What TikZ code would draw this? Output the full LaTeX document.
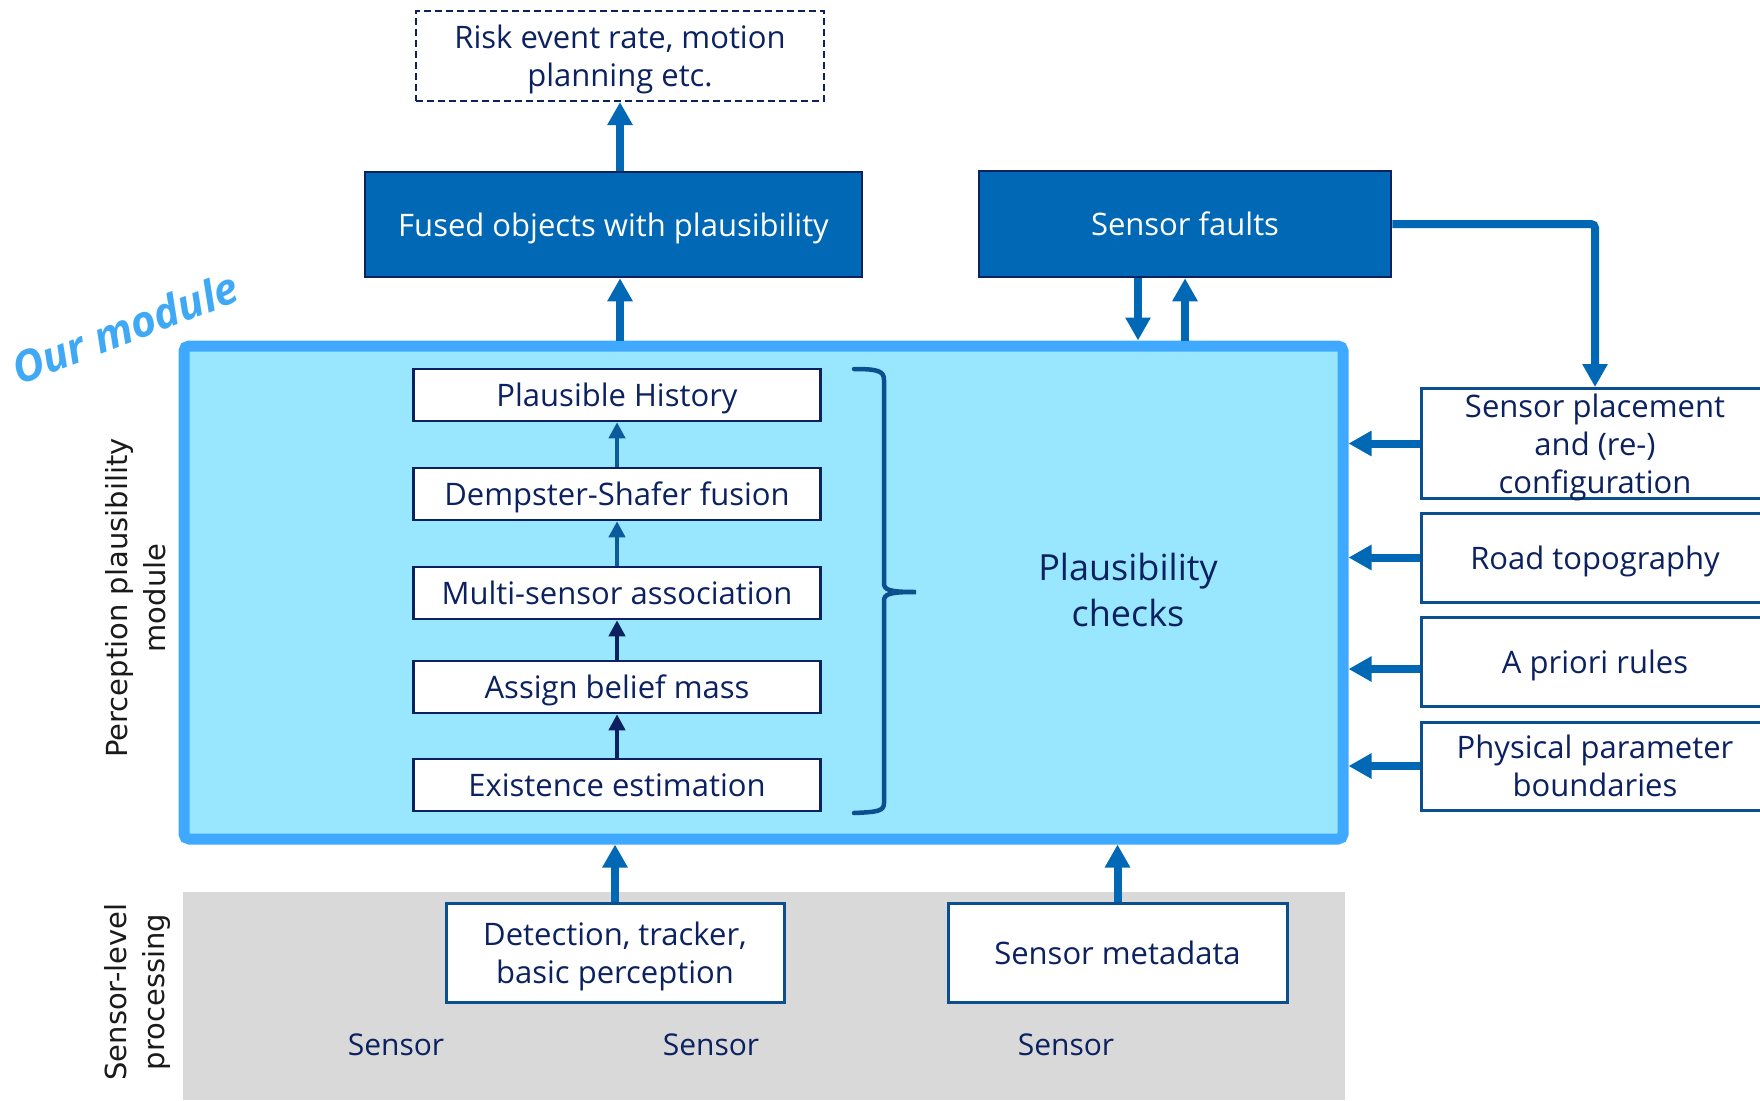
\documentclass[tikz,border=0pt]{standalone}
\usepackage{fontspec}
\setmainfont{Open Sans}
\newfontfamily\labelfont{DejaVu Sans}
\usetikzlibrary{arrows.meta}

\definecolor{txtnavy}{HTML}{0B2160}
\definecolor{iblue}{HTML}{0068B5}
\definecolor{modfill}{HTML}{99E6FF}
\definecolor{modedge}{HTML}{3FA9FF}
\definecolor{edgeblue}{HTML}{0B4F8F}
\definecolor{stepblue}{HTML}{0B5A9C}
\definecolor{procgray}{HTML}{D9D9D9}
\definecolor{ourblue}{HTML}{3FA9F5}
\definecolor{labelgray}{HTML}{1A1A1A}

\tikzset{
  boxtext/.style={font=\fontsize{31}{38}\selectfont, text=txtnavy, align=center,
    text depth=0pt},
  darkbox/.style={draw=txtnavy, fill=iblue, line width=2.5pt, text=white,
    font=\fontsize{31}{38}\selectfont, inner sep=0pt, text depth=0pt},
  stepbox/.style={draw=txtnavy, fill=white, line width=2.5pt, minimum width=407pt,
    minimum height=52pt, inner sep=0pt, boxtext},
  sidebox/.style={draw=edgeblue, fill=white, line width=3pt, minimum width=348pt,
    inner sep=0pt, boxtext},
  srcbox/.style={draw=edgeblue, fill=white, line width=3pt, minimum width=338pt,
    minimum height=99pt, inner sep=0pt, boxtext},
  feed/.style={draw=iblue, line width=8pt, -{Triangle[length=23pt,width=24pt]}},
  chain/.style={line width=4pt, -{Triangle[length=16pt,width=16pt]}},
  sidelabel/.style={rotate=90, text=labelgray, align=center,
    font=\labelfont\fontsize{29}{38}\selectfont},
  sensorlabel/.style={font=\fontsize{30}{36}\selectfont, text=txtnavy},
}

\begin{document}
\begin{tikzpicture}[x=1pt,y=-1pt]
\useasboundingbox (0,0) rectangle (1760,1100);
\clip (0,0) rectangle (1760,1100);

% sensor-level processing band
\fill[procgray] (183,892) rectangle (1345,1100);

% perception plausibility module
\node[draw=modedge, fill=modfill, line width=11pt, rounded corners=5pt,
      minimum width=1159pt, minimum height=493pt, inner sep=0pt] (module) at (763.5,592.5) {};

% outputs
\node[draw=txtnavy, line width=2pt, dash pattern=on 7pt off 4pt, minimum width=408pt,
      minimum height=90pt, inner sep=0pt, boxtext] (risk) at (620,56)
      {Risk event rate, motion\\planning etc.};
\node[darkbox, minimum width=497pt, minimum height=105pt] (fused) at (613.5,224.5)
      {Fused objects with plausibility};
\node[darkbox, minimum width=412pt, minimum height=106pt] (faults) at (1185,224)
      {Sensor faults};

% processing chain
\node[stepbox] (hist)   at (617,395) {Plausible History};
\node[stepbox] (ds)     at (617,494) {Dempster-Shafer fusion};
\node[stepbox] (assoc)  at (617,593) {Multi-sensor association};
\node[stepbox] (belief) at (617,687) {Assign belief mass};
\node[stepbox] (exist)  at (617,785) {Existence estimation};

\draw[chain, draw=stepblue] (ds.north) -- (hist.south);
\draw[chain, draw=stepblue] (assoc.north) -- (ds.south);
\draw[chain, draw=txtnavy] (belief.north) -- (assoc.south);
\draw[chain, draw=txtnavy] (exist.north) -- (belief.south);

% brace grouping the chain
\draw[edgeblue, line width=4.5pt, line cap=round]
  (854,369) .. controls (878,369) and (884,371) .. (884,380) -- (884,583)
  .. controls (884,590) and (889,592) .. (916,592)
  .. controls (889,592) and (884,594) .. (884,601) -- (884,803)
  .. controls (884,811) and (878,812) .. (854,813);

\node[font=\fontsize{36}{46}\selectfont, text=txtnavy, align=center] (checks) at (1128,590)
      {Plausibility\\checks};

% sensor-level inputs
\node[srcbox] (detect) at (615,953) {Detection, tracker,\\basic perception};
\node[srcbox, minimum width=339pt] (meta) at (1117.5,953) {Sensor metadata};

\node[sensorlabel] (s1) at (396,1045) {Sensor};
\node[sensorlabel] (s2) at (711,1045) {Sensor};
\node[sensorlabel] (s3) at (1066,1045) {Sensor};

% context inputs
\node[sidebox, minimum height=110pt] (place) at (1595,443.5)
      {Sensor placement\\and (re-)\\configuration};
\node[sidebox, minimum height=89pt] (road) at (1595,557.5) {Road topography};
\node[sidebox, minimum height=89pt] (rules) at (1595,661.5) {A priori rules};
\node[sidebox, minimum height=88pt] (phys) at (1595,766) {Physical parameter\\boundaries};

% side labels
\node[sidelabel] (pplabel) at (136,598) {Perception plausibility\\module};
\node[sidelabel] (sllabel) at (137,992) {Sensor-level\\processing};
\node[rotate=21, text=ourblue, inner sep=0pt,
      font=\fontsize{43}{50}\selectfont\bfseries\itshape]
      (ours) at (125,328) {Our module};

% connectors
\coordinate (fx) at (620,0);
\coordinate (dx) at (1138,0);
\coordinate (rulesy) at (0,669);

\draw[feed] (fused.north -| fx) -- (risk.south -| fx);
\draw[feed] (module.north -| fx) -- (fused.south -| fx);
\draw[feed] (faults.south -| dx) -- (module.north -| dx);
\draw[feed] (module.north -| faults) -- (faults.south);
\draw[feed, rounded corners=4pt] (faults.east) -| (place.north);

\draw[feed] (detect.north) -- (detect.north |- module.south);
\draw[feed] (meta.north) -- (meta.north |- module.south);

\draw[feed] (place.west) -- (place.west -| module.east);
\draw[feed] (road.west) -- (road.west -| module.east);
\draw[feed] (rules.west |- rulesy) -- (module.east |- rulesy);
\draw[feed] (phys.west) -- (phys.west -| module.east);
\end{tikzpicture}
\end{document}
